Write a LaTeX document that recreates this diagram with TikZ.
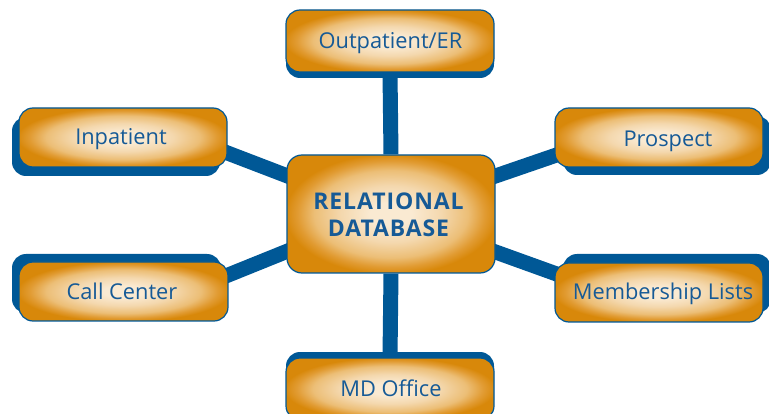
\documentclass[tikz,border=0pt]{standalone}
\usepackage{fontspec}
\setmainfont{Open Sans}
\newfontfamily\dbfont[LetterSpace=4]{Open Sans Bold}
\usetikzlibrary{shadows,calc}
\definecolor{dblue}{RGB}{0,88,150}
\definecolor{tblue}{RGB}{22,90,150}
\definecolor{cream}{RGB}{250,234,210}
\definecolor{lcream}{RGB}{244,216,174}
\definecolor{lorange}{RGB}{236,190,118}
\definecolor{morange}{RGB}{225,155,50}
\definecolor{orange}{RGB}{216,136,10}
\pgfdeclareradialshading{glow}{\pgfpoint{0bp}{0bp}}{%
  color(0bp)=(cream); color(5bp)=(cream); color(12bp)=(lcream);
  color(18.5bp)=(lorange); color(22.5bp)=(morange); color(25.5bp)=(orange);
  color(50bp)=(orange)}
\pgfdeclarelayer{bg}
\pgfsetlayers{bg,main}
\begin{document}
\begin{tikzpicture}[x=1pt,y=-1pt,
  box/.style={draw=dblue, line width=1.2pt, shading=glow, rounded corners=14pt,
    minimum width=208pt, minimum height=59pt, inner sep=0pt},
  lbl/.style={text=tblue, font=\fontsize{21.8}{24}\selectfont, inner sep=0pt, anchor=base},
  conn/.style={draw=dblue, line width=15pt}]
\useasboundingbox (0,0) rectangle (769,414);
% boxes
\node[box, minimum height=62pt, drop shadow={shadow xshift=0pt, shadow yshift=-6pt, fill=dblue, opacity=1}] (out) at (390,41) {};
\node[box, drop shadow={shadow xshift=-7pt, shadow yshift=-9pt, fill=dblue, opacity=1}] (inp) at (123,137.5) {};
\node[box, drop shadow={shadow xshift=8pt, shadow yshift=-8pt, fill=dblue, opacity=1}] (pro) at (659,137.5) {};
\node[box, minimum width=209pt, drop shadow={shadow xshift=-7pt, shadow yshift=8pt, fill=dblue, opacity=1}] (cc) at (123.5,291.5) {};
\node[box, drop shadow={shadow xshift=8pt, shadow yshift=9pt, fill=dblue, opacity=1}] (mem) at (659,292.5) {};
\node[box, minimum height=62pt, drop shadow={shadow xshift=0pt, shadow yshift=6pt, fill=dblue, opacity=1}] (md) at (390,389) {};
\node[box, minimum height=118pt, rounded corners=15pt] (db) at (391,214) {};
% labels
\node[lbl] (outT) at (390.5,48.5) {Outpatient/ER};
\node[lbl] (inpT) at (121,145) {Inpatient};
\node[lbl] (proT) at (668,146.5) {Prospect};
\node[lbl] (ccT) at (122,299.5) {Call Center};
\node[lbl] (memT) at (663,299.3) {Membership Lists};
\node[lbl] (mdT) at (391,396.5) {MD Office};
\node[text=tblue, inner sep=0pt, align=center,
  font=\dbfont\fontsize{23}{27}\selectfont] (dbT) at (388.5,214.3) {RELATIONAL\\DATABASE};
% connectors
\begin{pgfonlayer}{bg}
\draw[conn] (out.south) -- (db.north);
\draw[conn] (db.south) -- (md.north);
\draw[conn] ([shift={(-10,11.7)}]inp.east) -- ([shift={(10,-34.6)}]db.west);
\draw[conn] ([shift={(-10,-12.6)}]cc.east) -- ([shift={(10,33.5)}]db.west);
\draw[conn] ([shift={(-10,-34.6)}]db.east) -- ([shift={(10,14.8)}]pro.west);
\draw[conn] ([shift={(-10,34.4)}]db.east) -- ([shift={(10,-15.7)}]mem.west);
\end{pgfonlayer}
\end{tikzpicture}
\end{document}
